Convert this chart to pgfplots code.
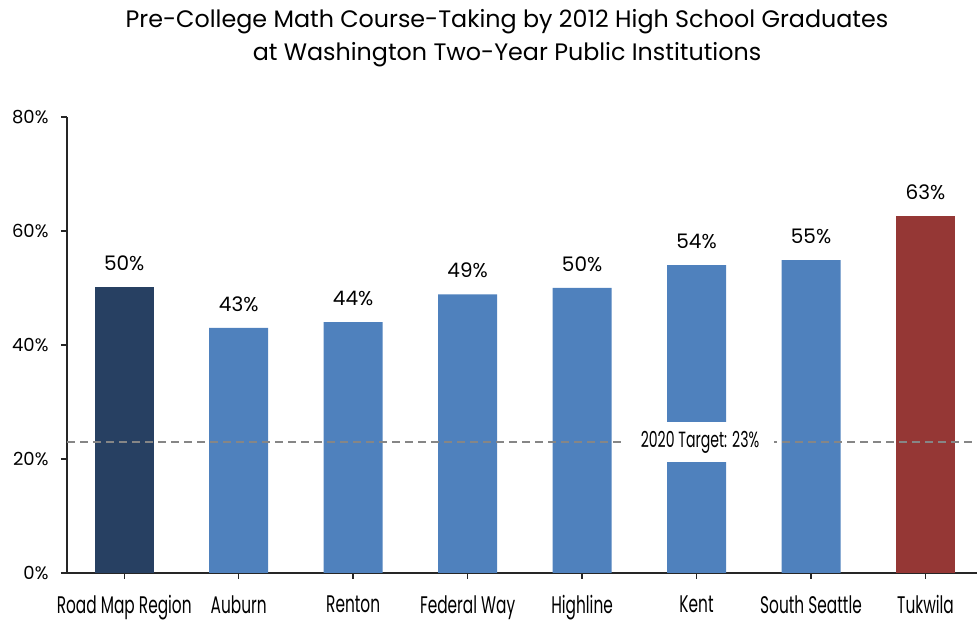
\documentclass[border=0pt]{standalone}
\usepackage{fontspec}
\setmainfont{Poppins}
\newfontfamily\condfont[FakeStretch=0.64]{Poppins}
\usepackage{pgfplots}
\pgfplotsset{compat=1.18}
\definecolor{navy}{HTML}{274062}
\definecolor{barblue}{HTML}{4F81BD}
\definecolor{barred}{HTML}{953735}
\definecolor{dashgray}{HTML}{868686}
\begin{document}
\begin{tikzpicture}[x=1pt,y=1pt]
\path[use as bounding box] (0,0) rectangle (977,623);
\node[font=\fontsize{23.8}{23.8}\selectfont] at (507,601) {Pre-College Math Course-Taking by 2012 High School Graduates};
\node[font=\fontsize{23.8}{23.8}\selectfont] at (507,568) {at Washington Two-Year Public Institutions};
\begin{axis}[
  at={(67pt,50pt)}, anchor=south west, scale only axis,
  width=910pt, height=456pt,
  xmin=-0.5, xmax=7.45, ymin=0, ymax=80,
  axis x line=bottom, axis y line=left,
  axis line style={-, line width=1.4pt, black!85},
  xtick={0,...,7},
  xticklabels={Road Map Region, Auburn, Renton, Federal Way, Highline, Kent, South Seattle, Tukwila},
  xticklabel style={font=\condfont\fontsize{24}{24}\selectfont, yshift=-13pt},
  ytick={0,20,40,60,80},
  yticklabel={\pgfmathprintnumber{\tick}\%},
  yticklabel style={font=\fontsize{18}{18}\selectfont, xshift=-9pt},
  /pgf/number format/assume math mode=true,
  tick align=outside, major tick length=6pt,
  tick style={line width=1.4pt, black!85},
  clip=false,
  nodes near coords={\pgfmathprintnumber[fixed,precision=0]{\pgfplotspointmeta}\%},
  every node near coord/.append style={font=\fontsize{20}{20}\selectfont, yshift=13pt},
]
\addplot[ybar, bar width=59pt, bar shift=0pt, fill=navy, draw=none] coordinates {(0,50.2)};
\addplot[ybar, bar width=59pt, bar shift=0pt, fill=barblue, draw=none] coordinates {(1,43.0) (2,44.0) (3,48.9) (4,50.0) (5,54.0) (6,54.9)};
\addplot[ybar, bar width=59pt, bar shift=0pt, fill=barred, draw=none] coordinates {(7,62.6)};
\addplot[dashgray, line width=2.5pt, dash pattern=on 8pt off 5pt, no marks, nodes near coords={}] coordinates {(-0.5,23) (7.45,23)};
\node[fill=white, minimum width=148pt, minimum height=40pt, inner sep=0pt, font=\condfont\fontsize{22}{22}\selectfont] at (axis cs:5.03,23) {2020 Target: 23\%};
\end{axis}
\end{tikzpicture}
\end{document}
